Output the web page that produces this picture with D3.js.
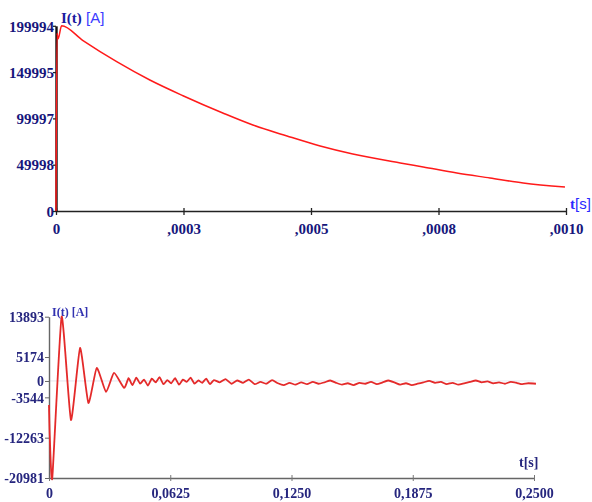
<!DOCTYPE html>
<html>
<head>
<meta charset="utf-8">
<script src="https://cdn.jsdelivr.net/npm/d3@7"></script>
<style>
  body { margin: 0; background: #fff; }
  svg { display: block; }
</style>
</head>
<body>
<script>
// datos

// grafico de arriba: I(t) en los primeros milisegundos
var topT = [0, 0.000002, 0.000004, 0.000011, 0.000053, 0.000119, 0.000184, 0.000249,
  0.000327, 0.000386, 0.000453, 0.000518, 0.000582, 0.000675, 0.00072, 0.000786,
  0.000851, 0.000916, 0.000998];
var topI = [0, 192000, 186000, 199994, 184000, 161230, 141460, 124500,
  105830, 92870, 80990, 70190, 61550, 51830, 47520, 41040,
  35640, 30240, 25920];
var topXTicks = [0, 0.00025, 0.0005, 0.00075, 0.001];
var topXLabels = ["0", ",0003", ",0005", ",0008", ",0010"];
var topYTicks = [0, 49998, 99997, 149995, 199994];

// grafico de abajo: oscilacion amortiguada
var botT = [0, 0.0004, 0.0017, 0.0065, 0.0113, 0.016, 0.0203, 0.0246, 0.0294, 0.0335, 0.0387,
  0.041, 0.043, 0.045, 0.047, 0.049, 0.051, 0.053, 0.055, 0.057, 0.059,
  0.061, 0.063, 0.065, 0.067, 0.069, 0.071, 0.073, 0.075, 0.077, 0.079,
  0.081, 0.083, 0.085, 0.088, 0.091, 0.094, 0.097, 0.100, 0.103, 0.106,
  0.109, 0.112, 0.115, 0.118, 0.121, 0.124, 0.127, 0.130, 0.133, 0.136,
  0.139, 0.142, 0.145, 0.148, 0.151, 0.154, 0.157, 0.160, 0.163, 0.166,
  0.169, 0.172, 0.175, 0.178, 0.181, 0.184, 0.187, 0.190, 0.193, 0.196,
  0.199, 0.202, 0.205, 0.208, 0.211, 0.214, 0.217, 0.220, 0.223, 0.226,
  0.229, 0.232, 0.235, 0.238, 0.241, 0.244, 0.247, 0.251];
var botI = [-5200, -12000, -20981, 13893, -8430, 7130, -4760, 2810, -2380, 1730, -1510,
  600, -900, 700, -600, 300, -1000, 500, -300, 800, -700,
  200, -500, 600, -800, 300, -200, 700, -600, 100, -400,
  500, -700, 200, -300, 400, -600, 100, -400, 300, -700,
  -200, -600, 200, -500, -900, -400, -800, -300, -700, -200,
  -600, -300, 100, -400, -800, -500, -900, -400, -600, -200,
  -700, -300, 100, -300, -800, -500, -900, -600, -300, 0,
  -400, -200, -700, -400, -800, -500, -200, 100, -300, -100,
  -500, -300, -600, -200, -400, -700, -500, -600];
var botXTicks = [0, 0.0625, 0.125, 0.1875, 0.25];
var botXLabels = ["0", "0,0625", "0,1250", "0,1875", "0,2500"];
var botYTicks = [-20981, -12263, -3544, 0, 5174, 13893];

var svg = d3.select("body").append("svg")
  .attr("width", 592)
  .attr("height", 502);

var defs = svg.append("defs");
defs.append("filter").attr("id", "borroso")
  .append("feGaussianBlur").attr("stdDeviation", 0.6);

var navy = "#16167c";
var serif = "'Liberation Serif', 'Times New Roman', serif";

// ---------- GRAFICO DE ARRIBA ----------
var xTop = d3.scaleLinear().domain([0, 0.001]).range([56, 566]);
var yTop = d3.scaleLinear().domain([0, 199994]).range([211, 25.8]);

var gTop = svg.append("g");

var axTopX = gTop.append("g")
  .attr("transform", "translate(0,211)")
  .call(d3.axisBottom(xTop).tickValues(topXTicks).tickFormat((d, i) => topXLabels[i]).tickSize(0).tickPadding(12));
axTopX.select(".domain").attr("stroke", "#222").attr("stroke-width", 1.6);
axTopX.selectAll(".tick line").attr("y1", -3).attr("y2", 4).attr("stroke", "#222").attr("stroke-width", 1.3);
axTopX.selectAll(".tick text").attr("font-family", serif).attr("font-weight", "bold")
  .attr("font-size", 15).attr("fill", navy);

var axTopY = gTop.append("g")
  .attr("transform", "translate(56,0)")
  .call(d3.axisLeft(yTop).tickValues(topYTicks).tickFormat(d => d).tickSize(0).tickPadding(2));
axTopY.select(".domain").attr("stroke", "#111").attr("stroke-width", 2.4);
axTopY.selectAll(".tick line").attr("x1", -3).attr("x2", 0).attr("stroke", "#222").attr("stroke-width", 1.3);
axTopY.selectAll(".tick text").attr("font-family", serif).attr("font-weight", "bold")
  .attr("font-size", 15).attr("fill", navy).attr("dy", "0.35em");

var lineTop = d3.line().x((d, i) => xTop(topT[i])).y(d => yTop(d)).curve(d3.curveMonotoneX);
gTop.append("path")
  .datum(topI)
  .attr("d", lineTop)
  .attr("fill", "none")
  .attr("stroke", "#ff1a1a")
  .attr("stroke-width", 1.5);

var tituloTop = gTop.append("text").attr("x", 61).attr("y", 23).attr("font-size", 15);
tituloTop.append("tspan").text("I(t)").attr("font-family", serif).attr("font-weight", "bold").attr("fill", "#1a1aa0");
tituloTop.append("tspan").text(" [A]").attr("font-family", "'Liberation Sans', Arial, sans-serif").attr("fill", "#3b3bff");

var ejeTop = gTop.append("text").attr("x", 570).attr("y", 209).attr("font-size", 15).attr("fill", "#2a2aff");
ejeTop.append("tspan").text("t").attr("font-family", serif).attr("font-weight", "bold");
ejeTop.append("tspan").text("[s]").attr("font-family", "'Liberation Sans', Arial, sans-serif");

// ---------- GRAFICO DE ABAJO ----------
var xBot = d3.scaleLinear().domain([0, 0.25]).range([49, 534]);
var yBot = d3.scaleLinear().domain([-20981, 13893]).range([478, 316.7]);

var gBot = svg.append("g").attr("filter", "url(#borroso)");

// linea tenue en el cero
gBot.append("line")
  .attr("x1", xBot(0)).attr("x2", xBot(0.25))
  .attr("y1", yBot(0)).attr("y2", yBot(0))
  .attr("stroke", "#e6e6ee").attr("stroke-width", 1);

var axBotX = gBot.append("g")
  .attr("transform", "translate(0,478)")
  .call(d3.axisBottom(xBot).tickValues(botXTicks).tickFormat((d, i) => botXLabels[i]).tickSize(0).tickPadding(10));
axBotX.select(".domain").attr("stroke", "#666").attr("stroke-width", 1.4);
axBotX.selectAll(".tick line").attr("y1", -3).attr("y2", 3).attr("stroke", "#777");
axBotX.selectAll(".tick text").attr("font-family", serif).attr("font-weight", "bold")
  .attr("font-size", 14).attr("fill", "#25257e");

var axBotY = gBot.append("g")
  .attr("transform", "translate(49,0)")
  .call(d3.axisLeft(yBot).tickValues(botYTicks).tickFormat(d => d).tickSize(0).tickPadding(5));
axBotY.select(".domain").attr("stroke", "#666").attr("stroke-width", 1.4);
axBotY.selectAll(".tick line").attr("x1", -4).attr("x2", 0).attr("stroke", "#666");
axBotY.selectAll(".tick text").attr("font-family", serif).attr("font-weight", "bold")
  .attr("font-size", 14).attr("fill", "#25257e").attr("dy", "0.35em");

var lineBot = d3.line().x((d, i) => xBot(botT[i])).y(d => yBot(d)).curve(d3.curveCardinal.tension(0.5));
gBot.append("path")
  .datum(botI)
  .attr("d", lineBot)
  .attr("fill", "none")
  .attr("stroke", "#e42a2a")
  .attr("stroke-width", 1.8);

gBot.append("text").attr("x", 52).attr("y", 316)
  .attr("font-family", serif).attr("font-weight", "bold").attr("font-size", 12).attr("fill", "#3030b0")
  .text("I(t) [A]");

gBot.append("text").attr("x", 519).attr("y", 467)
  .attr("font-family", serif).attr("font-weight", "bold").attr("font-size", 14).attr("fill", "#25257e")
  .text("t[s]");
</script>
</body>
</html>
